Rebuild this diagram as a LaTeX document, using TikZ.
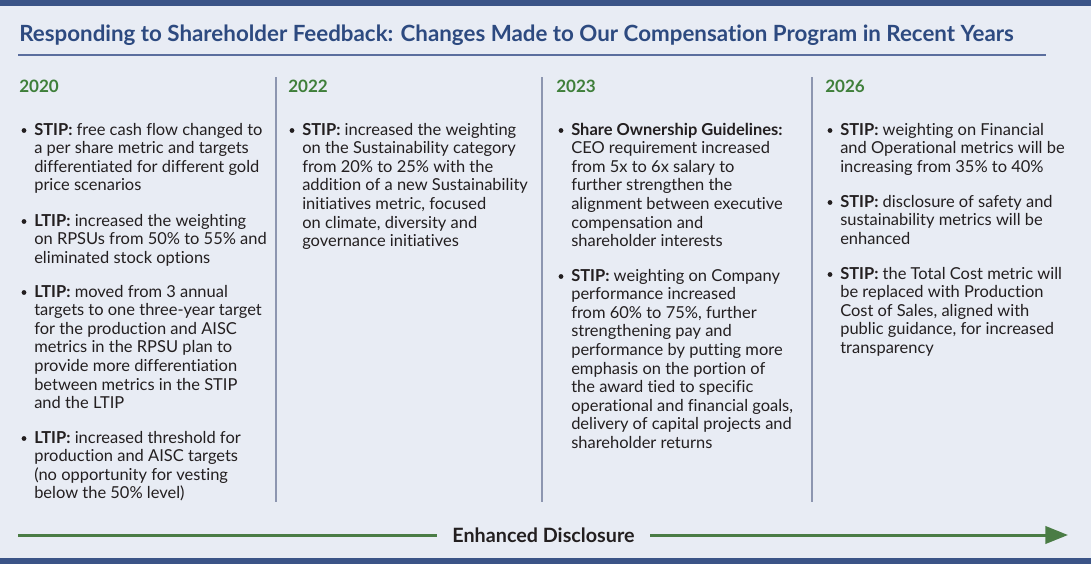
\documentclass[tikz,border=0pt]{standalone}
\usepackage{fontspec}
\setmainfont{Lato}[Ligatures={NoCommon}]
\usetikzlibrary{arrows.meta}
\definecolor{bg}{HTML}{E8ECF4}
\definecolor{band}{HTML}{3B5487}
\definecolor{ttl}{HTML}{2D4A80}
\definecolor{rulec}{HTML}{5B6E9E}
\definecolor{sepc}{HTML}{8D96B0}
\definecolor{yr}{HTML}{3F7F3A}
\definecolor{arr}{HTML}{4A7C45}
\definecolor{txt}{HTML}{231F20}
\tikzset{
  ln/.style={anchor=base west, inner sep=0pt, text=txt, font=\fontsize{12.35}{14.8}\selectfont},
  yearlbl/.style={anchor=base west, inner sep=0pt, text=yr, font=\fontsize{12.8}{15}\selectfont\bfseries},
  sepline/.style={draw=sepc, line width=1.1pt},
  arrline/.style={draw=arr, line width=2.25pt}
}
\newcommand\bitem[4]{%
  \fill[txt] ({#2-10},{#3-4.5}) circle (1.8pt);
  \foreach \l [count=\i from 0] in {#4} {
    \node[ln, name=#1-\i] at ({#2},{#3+\i*18.6}) {\l};
  }%
}
\begin{document}
\begin{tikzpicture}[x=0.75pt,y=-0.75pt]
\useasboundingbox (0,0) rectangle (1091,564);
\fill[bg] (0,0) rectangle (1091,564);
\fill[band] (0,0) rectangle (1091,6);
\fill[band] (0,558) rectangle (1091,564);
% title
\node[anchor=base west, inner sep=0pt, text=ttl, font=\fontsize{16.75}{20}\selectfont\bfseries] (title) at (19,41)
  {Responding to Shareholder Feedback: Changes Made to Our Compensation Program in Recent Years};
\coordinate (r1) at (18,55);
\coordinate (r2) at (1046,55);
\draw[draw=rulec, line width=1.1pt] (r1) -- (r2);
% separators
\coordinate (s1a) at (276,77); \coordinate (s1b) at (276,502);
\coordinate (s2a) at (542,77); \coordinate (s2b) at (542,502);
\coordinate (s3a) at (812,77); \coordinate (s3b) at (812,502);
\draw[sepline] (s1a) -- (s1b);
\draw[sepline] (s2a) -- (s2b);
\draw[sepline] (s3a) -- (s3b);
% years
\node[yearlbl] (y2020) at (19,92) {2020};
\node[yearlbl] (y2022) at (288,92) {2022};
\node[yearlbl] (y2023) at (556,92) {2023};
\node[yearlbl] (y2026) at (825,92) {2026};
% column 1
\bitem{a1}{34}{135}{{\textbf{STIP:} free cash flow changed to},{a per share metric and targets},{differentiated for different gold},{price scenarios}}
\bitem{a2}{34}{226}{{\textbf{LTIP:} increased the weighting},{on RPSUs from 50\% to 55\% and},{eliminated stock options}}
\bitem{a3}{34}{297}{{\textbf{LTIP:} moved from 3 annual},{targets to one three-year target},{for the production and AISC},{metrics in the RPSU plan to},{provide more differentiation},{between metrics in the STIP},{and the LTIP}}
\bitem{a4}{34}{443}{{\textbf{LTIP:} increased threshold for},{production and AISC targets},{(no opportunity for vesting},{below the 50\% level)}}
% column 2
\bitem{b1}{302}{135}{{\textbf{STIP:} increased the weighting},{on the Sustainability category},{from 20\% to 25\% with the},{addition of a new Sustainability},{initiatives metric, focused},{on climate, diversity and},{governance initiatives}}
% column 3
\bitem{c1}{571}{135}{{\textbf{Share Ownership Guidelines:}},{CEO requirement increased},{from 5x to 6x salary to},{further strengthen the},{alignment between executive},{compensation and},{shareholder interests}}
\bitem{c2}{571}{281}{{\textbf{STIP:} weighting on Company},{performance increased},{from 60\% to 75\%, further},{strengthening pay and},{performance by putting more},{emphasis on the portion of},{the award tied to specific},{operational and financial goals,},{delivery of capital projects and},{shareholder returns}}
% column 4
\bitem{d1}{840}{135}{{\textbf{STIP:} weighting on Financial},{and Operational metrics will be},{increasing from 35\% to 40\%}}
\bitem{d2}{840}{207}{{\textbf{STIP:} disclosure of safety and},{sustainability metrics will be},{enhanced}}
\bitem{d3}{840}{279}{{\textbf{STIP:} the Total Cost metric will},{be replaced with Production},{Cost of Sales, aligned with},{public guidance, for increased},{transparency}}
% arrow
\node[inner xsep=11.5pt, inner ysep=0pt, text=txt, font=\fontsize{14.8}{17}\selectfont\bfseries] (ed) at (543.5,535) {Enhanced Disclosure};
\coordinate (al) at (18,535);
\coordinate (ar) at (1068,535);
\draw[arrline] (al) -- (ed.west);
\draw[arrline, -{Triangle[length=17pt,width=13pt]}] (ed.east) -- (ar);
\end{tikzpicture}
\end{document}
